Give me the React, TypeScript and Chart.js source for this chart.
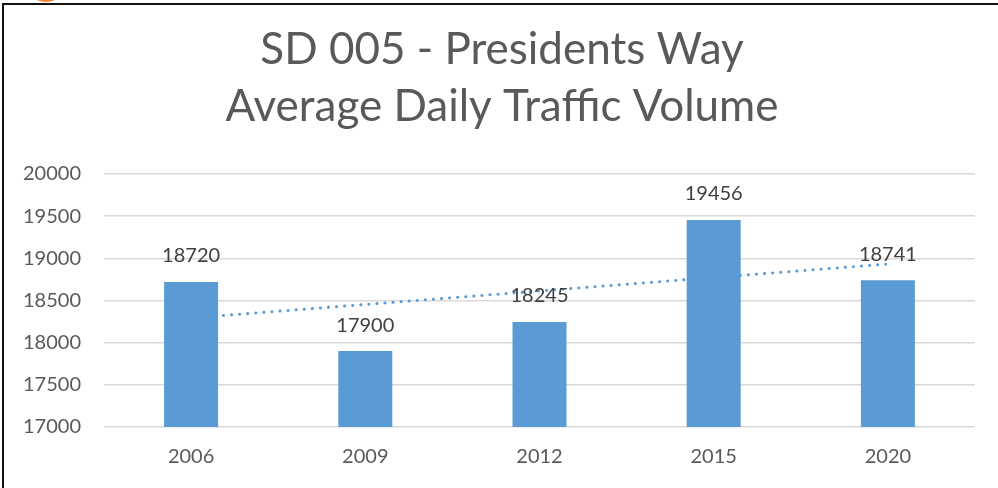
import React, { useEffect, useRef } from "react";
import { Chart, registerables } from "chart.js";

Chart.register(...registerables);

const years = ["2006", "2009", "2012", "2015", "2020"];
const traffic = [18720, 17900, 18245, 19456, 18741];
const titleLines = ["SD 005 - Presidents Way", "Average Daily Traffic Volume"];
const yMin = 17000;
const yMax = 20000;
const yStep = 500;

function linearTrend(values: number[]): number[] {
  const n = values.length;
  const mx = (n - 1) / 2;
  const my = values.reduce((a, b) => a + b, 0) / n;
  let num = 0;
  let den = 0;
  values.forEach((v, i) => {
    num += (i - mx) * (v - my);
    den += (i - mx) * (i - mx);
  });
  const slope = num / den;
  return values.map((_, i) => my + slope * (i - mx));
}

const FONT = "Lato, 'Open Sans', sans-serif";

const barLabelPlugin = {
  id: "barLabels",
  afterDatasetsDraw(chart: any) {
    const meta = chart.getDatasetMeta(0);
    const ctx = chart.ctx;
    ctx.save();
    ctx.font = `20px ${FONT}`;
    ctx.fillStyle = "#404040";
    ctx.textAlign = "center";
    ctx.textBaseline = "middle";
    meta.data.forEach((bar: any, i: number) => {
      ctx.fillText(String(traffic[i]), bar.x, bar.y - 26);
    });
    ctx.restore();
  },
};

const titlePlugin = {
  id: "customTitle",
  afterDraw(chart: any) {
    const ctx = chart.ctx;
    ctx.save();
    ctx.font = `44px ${FONT}`;
    ctx.fillStyle = "#595959";
    ctx.textAlign = "center";
    ctx.textBaseline = "middle";
    titleLines.forEach((line, i) => {
      ctx.fillText(line, 502, 50 + i * 57);
    });
    ctx.restore();
  },
};

export default function App() {
  const ref = useRef<HTMLCanvasElement>(null);
  useEffect(() => {
    if (!ref.current) return;
    const chart = new Chart(ref.current, {
      type: "bar",
      data: {
        labels: years,
        datasets: [
          {
            type: "bar",
            data: traffic,
            backgroundColor: "#5B9BD5",
            borderWidth: 0,
            barPercentage: 0.31,
            categoryPercentage: 1,
            order: 2,
          },
          {
            type: "line",
            data: linearTrend(traffic),
            borderColor: "#5B9BD5",
            borderWidth: 3,
            borderDash: [0.1, 8],
            borderCapStyle: "round",
            pointRadius: 0,
            fill: false,
            order: 1,
          } as any,
        ],
      },
      options: {
        animation: false,
        responsive: false,
        maintainAspectRatio: false,
        layout: { padding: { left: 0, right: 23, top: 174, bottom: 0 } },
        plugins: {
          legend: { display: false },
          tooltip: { enabled: false },
          title: { display: false },
        },
        scales: {
          x: {
            grid: { display: false, drawTicks: false },
            border: { display: false },
            ticks: {
              color: "#595959",
              font: { family: FONT, size: 20 },
              padding: 18,
            },
            afterFit(scale: any) {
              scale.height = 61;
            },
          },
          y: {
            min: yMin,
            max: yMax,
            grid: { color: "#D9D9D9", lineWidth: 1.5, drawTicks: false },
            border: { display: false },
            ticks: {
              stepSize: yStep,
              color: "#595959",
              font: { family: FONT, size: 20 },
              padding: 23,
              callback: (v: any) => String(v),
            },
            afterFit(scale: any) {
              scale.width = 104;
            },
          },
        },
      },
      plugins: [barLabelPlugin, titlePlugin],
    });
    return () => chart.destroy();
  }, []);

  return (
    <div style={{ position: "fixed", left: 0, top: 0, width: 998, height: 488, background: "#fff", overflow: "hidden" }}>
      <div style={{ position: "absolute", left: 36, top: -6, width: 20, height: 8, borderRadius: "50%", background: "#F0883A" }} />
      <div style={{ position: "absolute", left: 2, top: 3, width: 1200, height: 800, borderLeft: "2px solid #111", borderTop: "2px solid #111" }} />
      <canvas ref={ref} width={998} height={488} style={{ position: "absolute", left: 0, top: 0, width: 998, height: 488 }} />
    </div>
  );
}
